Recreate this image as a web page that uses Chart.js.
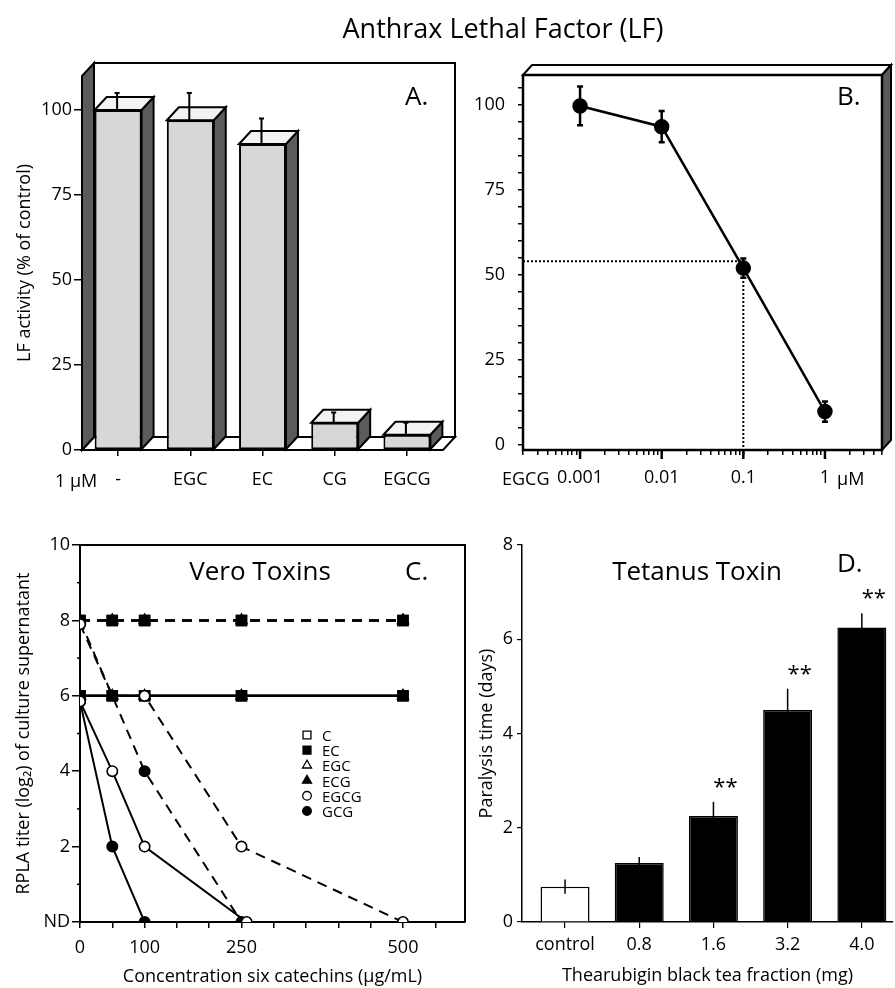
<!DOCTYPE html>
<html>
<head>
<meta charset="utf-8">
<script src="https://cdn.jsdelivr.net/npm/chart.js@4.4.0/dist/chart.umd.min.js"></script>
<style>
html,body{margin:0;padding:0;background:#fff;}
#wrap{position:relative;width:895px;height:988px;overflow:hidden;background:#fff;}
#wrap canvas{position:absolute;left:0;top:0;}
</style>
</head>
<body>
<div id="wrap">
<canvas id="cA" width="895" height="988"></canvas>
<canvas id="cB" width="895" height="988"></canvas>
<canvas id="cC" width="895" height="988"></canvas>
<canvas id="cD" width="895" height="988"></canvas>
</div>
<script>
// ================= DATA =================
const figTitle = 'Anthrax Lethal Factor (LF)';

// Panel A: LF activity (% of control) at 1 µM of each catechin
const catsA = ['-', 'EGC', 'EC', 'CG', 'EGCG'];
const lfActA = [100, 97, 90, 8, 4.5];
const lfErrA = [5, 8, 7.5, 3, 3.5];
const yTicksA = [0, 25, 50, 75, 100];

// Panel B: EGCG dose response
const doseB = [0.001, 0.01, 0.1, 1];
const doseLabelsB = ['0.001', '0.01', '0.1', '1'];
const lfActB = [99.7, 93.6, 52, 9.8];
const lfErrB = [5.7, 4.6, 2.8, 3];
const ic50DoseB = 0.1;
const ic50ActB = 54;
const yLabelTicksB = [0, 25, 50, 75, 100];

// Panel C: Vero toxins, RPLA titre (log2); dashed = one toxin, solid = the other
const seriesC = ['C', 'EC', 'EGC', 'ECG', 'EGCG', 'GCG'];
const concC = [0, 50, 100, 250, 500];
const cDash = [8, 8, 8, 8, 8],   cSolid = [6, 6, 6, 6, 6];
const ecDash = [8, 8, 8, 8, 8],  ecSolid = [6, 6, 6, 6, 6];
const egcDash = [8, 8, 8, 8, 8], egcSolid = [6, 6, 6, 6, 6];
const ecgDash = [8, 8, 8, 8, 8], ecgSolid = [6, 6, 6, 6, 6];
const egcgDashX = [0, 50, 100, 250, 500], egcgDash = [7.9, 6, 6, 2, 0];
const egcgSolidX = [0, 50, 100, 258],     egcgSolid = [5.85, 4, 2, 0];
const gcgDashX = [0, 100, 250],           gcgDash = [8, 4, 0];
const gcgSolidX = [0, 50, 100],           gcgSolid = [5.85, 2, 0];
const xLabelTicksC = [0, 100, 250, 500];

// Panel D: Tetanus toxin
const catsD = ['control', '0.8', '1.6', '3.2', '4.0'];
const paralysisD = [0.75, 1.25, 2.25, 4.5, 6.25];
const paralysisErrD = [0.15, 0.13, 0.3, 0.45, 0.3];
const sigD = ['', '', '**', '**', '**'];

// ================= SETUP =================
const FONT = "'Open Sans', 'DejaVu Sans', sans-serif";
Chart.defaults.font.family = FONT;
Chart.defaults.font.size = 18;
Chart.defaults.color = '#000';
Chart.defaults.animation = false;
Chart.defaults.plugins.legend.display = false;
Chart.defaults.plugins.tooltip.enabled = false;
const W = 895, H = 988;
function pad(l, t, r, b, yW, xH) { return {left: l - yW, top: t, right: W - r, bottom: H - b - xH}; }
function fixW(w) { return s => { s.width = w; }; }
function fixH(h) { return s => { s.height = h; }; }
function txt(ctx, s, x, y, size, align) {
  ctx.save(); ctx.font = size + 'px ' + FONT; ctx.fillStyle = '#000';
  ctx.textAlign = align || 'left'; ctx.textBaseline = 'alphabetic';
  ctx.fillText(s, x, y); ctx.restore();
}
function poly(ctx, pts, fill, lw) {
  ctx.beginPath();
  pts.forEach((p, i) => i ? ctx.lineTo(p[0], p[1]) : ctx.moveTo(p[0], p[1]));
  ctx.closePath();
  if (fill) { ctx.fillStyle = fill; ctx.fill(); }
  ctx.lineWidth = lw || 2; ctx.strokeStyle = '#000'; ctx.lineJoin = 'miter'; ctx.stroke();
}
const DARK = '#5b5b5b';

// ================= PANEL A =================
const DXA = 12, DYA = -13;
const plugA = {
  id: 'plugA',
  beforeDatasetsDraw(chart) {
    const {ctx, chartArea: a} = chart; const y = chart.scales.y;
    const top = y.getPixelForValue(y.max), bot = y.getPixelForValue(0);
    ctx.save();
    poly(ctx, [[a.left + DXA, top + DYA], [a.right + DXA, top + DYA], [a.right + DXA, bot + DYA], [a.left + DXA, bot + DYA]], '#fff', 2);
    poly(ctx, [[a.left, bot], [a.left + DXA, bot + DYA], [a.right + DXA, bot + DYA], [a.right, bot]], '#fff', 2);
    poly(ctx, [[a.left, top], [a.left + DXA, top + DYA], [a.left + DXA, bot + DYA], [a.left, bot]], DARK, 2);
    ctx.restore();
  },
  afterDatasetsDraw(chart) {
    const {ctx} = chart; const y = chart.scales.y;
    ctx.save();
    chart.getDatasetMeta(0).data.forEach((bar, i) => {
      const l = bar.x - bar.width / 2, r = bar.x + bar.width / 2, t = bar.y, b = bar.base;
      poly(ctx, [[r, t], [r + DXA, t + DYA], [r + DXA, b + DYA], [r, b]], DARK, 2);
      poly(ctx, [[l, t], [l + DXA, t + DYA], [r + DXA, t + DYA], [r, t]], '#f3f3f3', 2);
      const ex = bar.x - 1, et = y.getPixelForValue(lfActA[i] + lfErrA[i]);
      ctx.beginPath(); ctx.moveTo(ex, t); ctx.lineTo(ex, et);
      ctx.moveTo(ex - 2.5, et); ctx.lineTo(ex + 2.5, et);
      ctx.lineWidth = 2; ctx.strokeStyle = '#000'; ctx.stroke();
    });
    ctx.restore();
  },
  afterDraw(chart) {
    const {ctx} = chart;
    txt(ctx, figTitle, 503, 38, 27, 'center');
    txt(ctx, 'A.', 405, 105, 26);
    txt(ctx, '1 \u03bcM', 55, 487, 18);
  }
};
new Chart(document.getElementById('cA'), {
  type: 'bar',
  data: { labels: catsA, datasets: [{ data: lfActA, backgroundColor: '#d7d7d7', borderColor: '#000', borderWidth: 2,
    borderSkipped: false, categoryPercentage: 1, barPercentage: 0.65 }] },
  options: {
    responsive: false,
    layout: { padding: pad(82, 76, 443, 450, 82, 50) },
    scales: {
      x: { type: 'category', offset: true,
        grid: { drawOnChartArea: false, offset: false, tickLength: 6, color: '#000', lineWidth: 1.5 },
        border: { display: false }, ticks: { padding: 13, maxRotation: 0, autoSkip: false }, afterFit: fixH(50) },
      y: { min: 0, max: 110, afterBuildTicks: s => { s.ticks = yTicksA.map(v => ({value: v})); },
        grid: { drawOnChartArea: false, tickLength: 8, color: '#000', lineWidth: 1.5 },
        border: { display: false }, ticks: { padding: 2 },
        title: { display: true, text: 'LF activity (% of control)', font: { size: 18 }, padding: { top: 14, bottom: 0 } },
        afterFit: fixW(82) }
    }
  },
  plugins: [plugA]
});

// ================= PANEL B =================
const DXB = 9, DYB = -10;
const ticksB = [];
for (let e = -4; e <= 0; e++) for (let k = 1; k <= 9; k++) {
  const v = +(k * Math.pow(10, e)).toPrecision(2);
  if (v >= 0.0002 && v <= 5) ticksB.push(v);
}
const yTicksB = [];
for (let v = 0; v <= 105; v += 5) yTicksB.push(v);
const plugB = {
  id: 'plugB',
  beforeDatasetsDraw(chart) {
    const {ctx, chartArea: a} = chart; const x = chart.scales.x, y = chart.scales.y;
    ctx.save();
    poly(ctx, [[a.left, a.top], [a.left + DXB, a.top + DYB], [a.right + DXB, a.top + DYB], [a.right, a.top]], '#fff', 2);
    poly(ctx, [[a.right, a.top], [a.right + DXB, a.top + DYB], [a.right + DXB, a.bottom + DYB], [a.right, a.bottom]], DARK, 2);
    ctx.lineWidth = 2.5; ctx.strokeStyle = '#000';
    ctx.strokeRect(a.left, a.top, a.right - a.left, a.bottom - a.top);
    // IC50 dotted guides
    const xi = x.getPixelForValue(ic50DoseB), yi = y.getPixelForValue(ic50ActB);
    ctx.setLineDash([2, 2]); ctx.lineWidth = 2;
    ctx.beginPath(); ctx.moveTo(a.left, yi); ctx.lineTo(xi, yi); ctx.lineTo(xi, a.bottom); ctx.stroke();
    ctx.setLineDash([]);
    // error bars
    doseB.forEach((d, i) => {
      const px = x.getPixelForValue(d);
      const y1 = y.getPixelForValue(lfActB[i] + lfErrB[i]), y2 = y.getPixelForValue(lfActB[i] - lfErrB[i]);
      ctx.beginPath(); ctx.moveTo(px, y1); ctx.lineTo(px, y2);
      ctx.moveTo(px - 3, y1); ctx.lineTo(px + 3, y1); ctx.moveTo(px - 3, y2); ctx.lineTo(px + 3, y2);
      ctx.lineWidth = 2.5; ctx.stroke();
    });
    ctx.restore();
  },
  afterDraw(chart) {
    const {ctx, chartArea: a} = chart; const x = chart.scales.x;
    ctx.save(); ctx.strokeStyle = '#000'; ctx.lineWidth = 2.5;
    doseB.forEach(d => { const px = x.getPixelForValue(d);
      ctx.beginPath(); ctx.moveTo(px, a.bottom); ctx.lineTo(px, a.bottom + 9); ctx.stroke(); });
    ctx.restore();
    txt(ctx, 'B.', 837, 105, 26);
    txt(ctx, 'EGCG', 502, 485, 18);
    txt(ctx, '\u03bcM', 837, 485, 18);
  }
};
new Chart(document.getElementById('cB'), {
  type: 'line',
  data: { datasets: [{ data: doseB.map((d, i) => ({x: d, y: lfActB[i]})), borderColor: '#000', borderWidth: 2.5,
    pointRadius: 6.5, pointBackgroundColor: '#000', pointBorderColor: '#000', fill: false, tension: 0 }] },
  options: {
    responsive: false,
    layout: { padding: pad(523, 75, 882, 450, 63, 50) },
    scales: {
      x: { type: 'logarithmic', min: 0.0002, max: 5,
        afterBuildTicks: s => { s.ticks = ticksB.map(v => ({value: v})); },
        ticks: { autoSkip: false, maxRotation: 0, padding: 12,
          callback: v => { const i = doseB.indexOf(v); return i >= 0 ? doseLabelsB[i] : ''; } },
        grid: { drawOnChartArea: false, tickLength: 5, color: '#000', lineWidth: 1.5 },
        border: { display: false }, afterFit: fixH(50) },
      y: { min: -1.5, max: 108.8,
        afterBuildTicks: s => { s.ticks = yTicksB.map(v => ({value: v})); },
        ticks: { autoSkip: false, padding: 13, callback: v => yLabelTicksB.includes(v) ? String(v) : '' },
        grid: { drawOnChartArea: false, tickLength: 5, color: '#000', lineWidth: 1.5 },
        border: { display: false }, afterFit: fixW(63) }
    }
  },
  plugins: [plugB]
});

// ================= PANEL C =================
function pts(xs, ys) { return xs.map((x, i) => ({x: x, y: ys[i]})); }
function dsC(label, xs, ys, style, filled, dashed, extra) {
  return Object.assign({
    label: label, data: pts(xs, ys), borderColor: '#000', borderWidth: 2, borderDash: dashed ? [10, 7] : [],
    pointStyle: style, pointRadius: style === 'rect' ? 7 : (style === 'triangle' ? 6 : 5.2),
    pointBackgroundColor: filled ? '#000' : '#fff', pointBorderColor: '#000', pointBorderWidth: 1.6,
    fill: false, tension: 0
  }, extra || {});
}
const legendStyleC = { C: ['rect', false], EC: ['rect', true], EGC: ['triangle', false],
  ECG: ['triangle', true], EGCG: ['circle', false], GCG: ['circle', true] };
const plugC = {
  id: 'plugC',
  afterDraw(chart) {
    const {ctx, chartArea: a} = chart; const y = chart.scales.y;
    ctx.save(); ctx.strokeStyle = '#000'; ctx.lineWidth = 2;
    ctx.beginPath(); ctx.moveTo(a.left, a.top); ctx.lineTo(a.right, a.top); ctx.lineTo(a.right, a.bottom); ctx.stroke();
    ctx.lineWidth = 1.5;
    for (let v = 1; v < 10; v += 2) { const py = y.getPixelForValue(v);
      ctx.beginPath(); ctx.moveTo(a.left - 3, py); ctx.lineTo(a.left + 1, py); ctx.stroke(); }
    // legend
    seriesC.forEach((name, i) => {
      const cy = 735 + i * 15.2; const st = legendStyleC[name];
      ctx.fillStyle = st[1] ? '#000' : '#fff'; ctx.strokeStyle = '#000'; ctx.lineWidth = 1.3;
      Chart.helpers.drawPoint(ctx, { pointStyle: st[0], radius: st[0] === 'rect' ? 5.6 : (st[0] === 'triangle' ? 5.2 : 4.3), borderWidth: 1.3, rotation: 0 }, 307, cy);
      txt(ctx, name, 322, cy + 6, 15);
    });
    ctx.restore();
    txt(ctx, 'Vero Toxins', 260, 580, 26, 'center');
    txt(ctx, 'C.', 405, 580, 26);
  }
};
new Chart(document.getElementById('cC'), {
  type: 'line',
  data: { datasets: [
    dsC('EGCG', egcgDashX, egcgDash, 'circle', false, true, { pointRadius: c => c.dataIndex === 1 ? 0 : 5.2 }),
    dsC('EGCG', egcgSolidX, egcgSolid, 'circle', false, false),
    dsC('GCG', gcgDashX, gcgDash, 'circle', true, true),
    dsC('GCG', gcgSolidX, gcgSolid, 'circle', true, false),
    dsC('EC', concC, ecDash, 'rect', true, true),
    dsC('EC', concC, ecSolid, 'rect', true, false),
    dsC('ECG', concC, ecgDash, 'triangle', true, true),
    dsC('ECG', concC, ecgSolid, 'triangle', true, false),
    dsC('EGC', concC, egcDash, 'triangle', false, true),
    dsC('EGC', concC, egcSolid, 'triangle', false, false),
    dsC('C', concC, cDash, 'rect', false, true),
    dsC('C', concC, cSolid, 'rect', false, false)
  ] },
  options: {
    responsive: false,
    layout: { padding: pad(80, 545, 465, 922, 80, 66) },
    scales: {
      x: { type: 'linear', min: 0, max: 596,
        afterBuildTicks: s => { const t = []; for (let v = 0; v <= 550; v += 50) t.push({value: v}); s.ticks = t; },
        ticks: { autoSkip: false, maxRotation: 0, padding: 9, callback: v => xLabelTicksC.includes(v) ? String(v) : '' },
        grid: { drawOnChartArea: false, tickLength: 6, color: '#000', lineWidth: 1.5 },
        border: { display: true, color: '#000', width: 2 },
        title: { display: true, text: 'Concentration six catechins (\u03bcg/mL)', font: { size: 18 }, padding: { top: 0, bottom: 0 } },
        afterFit: fixH(66) },
      y: { min: 0, max: 10,
        afterBuildTicks: s => { const t = []; for (let v = 0; v <= 10; v++) t.push({value: v}); s.ticks = t; },
        ticks: { autoSkip: false, padding: 2, callback: v => v === 0 ? 'ND' : (v % 2 === 0 ? String(v) : '') },
        grid: { drawOnChartArea: false, tickLength: 8, lineWidth: 1.5, tickColor: c => (c.tick && c.tick.value % 2) ? 'rgba(0,0,0,0)' : '#000' },
        border: { display: true, color: '#000', width: 2 },
        title: { display: true, text: 'RPLA titer (log\u2082) of culture supernatant', font: { size: 18 }, padding: { top: 13, bottom: 0 } },
        afterFit: fixW(80) }
    }
  },
  plugins: [plugC]
});

// ================= PANEL D =================
const plugD = {
  id: 'plugD',
  afterDatasetsDraw(chart) {
    const {ctx} = chart; const y = chart.scales.y;
    ctx.save(); ctx.strokeStyle = '#000'; ctx.lineWidth = 1.5;
    chart.getDatasetMeta(0).data.forEach((bar, i) => {
      const y1 = y.getPixelForValue(paralysisD[i] + paralysisErrD[i]);
      const y2 = y.getPixelForValue(paralysisD[i] - paralysisErrD[i]);
      ctx.beginPath(); ctx.moveTo(bar.x, y1); ctx.lineTo(bar.x, y2); ctx.stroke();
      if (sigD[i]) txt(ctx, sigD[i], bar.x + 12, y1 - 20 + 12, 22, 'center');
    });
    ctx.restore();
  },
  afterDraw(chart) {
    const {ctx} = chart;
    txt(ctx, 'Tetanus Toxin', 697, 580, 26, 'center');
    txt(ctx, 'D.', 837, 572, 26);
  }
};
new Chart(document.getElementById('cD'), {
  type: 'bar',
  data: { datasets: [{ data: paralysisD.map((v, i) => ({x: i, y: v})),
    backgroundColor: paralysisD.map((v, i) => i === 0 ? '#fff' : '#000'), borderColor: '#000', borderWidth: 1.5,
    borderSkipped: 'start', categoryPercentage: 1, barPercentage: 0.66 }] },
  options: {
    responsive: false,
    layout: { padding: pad(522, 545, 893, 922, 62, 66) },
    scales: {
      x: { type: 'linear', min: -0.58, max: 4.42, offset: false,
        afterBuildTicks: s => { s.ticks = catsD.map((c, i) => ({value: i})); },
        ticks: { autoSkip: false, maxRotation: 0, padding: 6, callback: v => catsD[v] },
        grid: { drawOnChartArea: false, offset: false, tickLength: 6, color: '#000', lineWidth: 1.2 },
        border: { display: true, color: '#000', width: 1.5 },
        title: { display: true, text: 'Thearubigin black tea fraction (mg)', font: { size: 18 }, padding: { top: 0, bottom: 1 } },
        afterFit: fixH(66) },
      y: { min: 0, max: 8, ticks: { stepSize: 2, padding: 4 },
        grid: { drawOnChartArea: false, tickLength: 5, color: '#000', lineWidth: 1.2 },
        border: { display: true, color: '#000', width: 1.5 },
        title: { display: true, text: 'Paralysis time (days)', font: { size: 18 }, padding: { top: 16, bottom: 0 } },
        afterFit: fixW(62) }
    }
  },
  plugins: [plugD]
});
</script>
</body>
</html>
